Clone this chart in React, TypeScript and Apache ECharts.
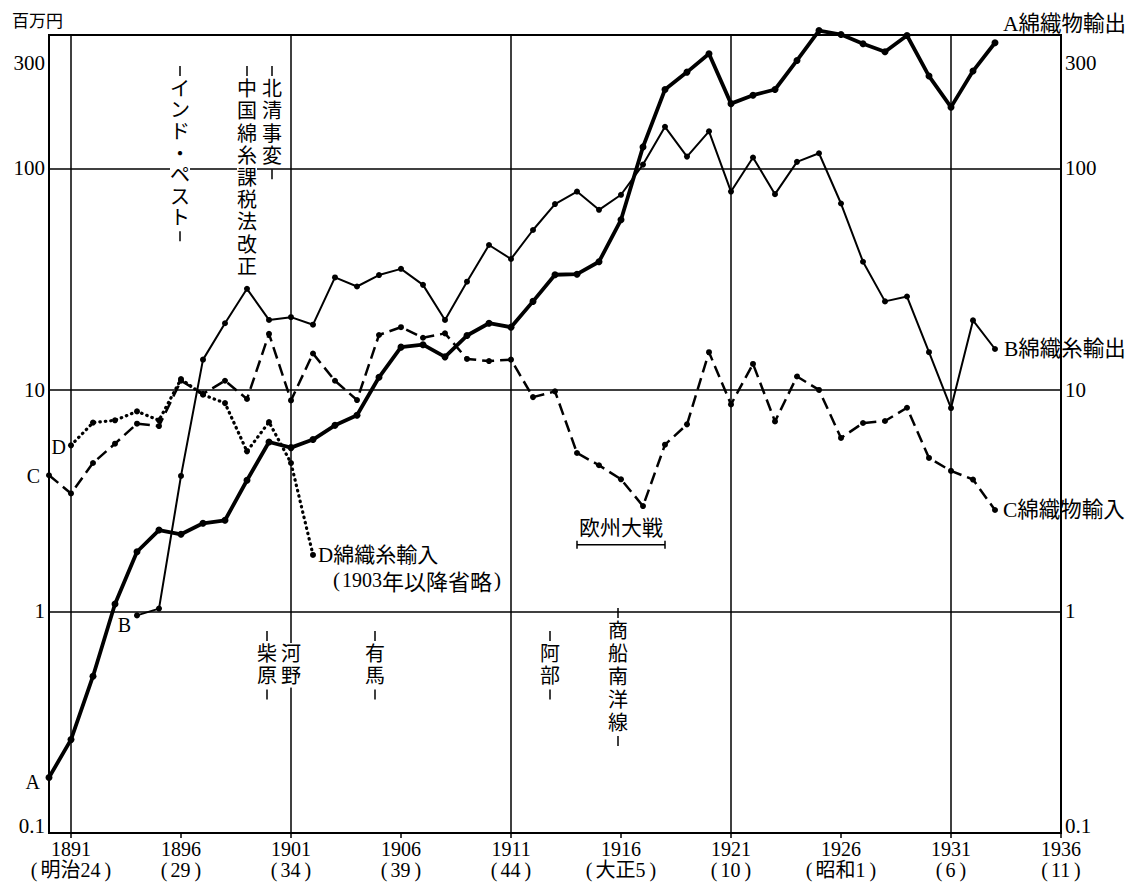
import React, { useEffect, useRef } from "react";
import * as echarts from "echarts";

// ---- data (million yen, log scale) ----
const startYearA = 1890; // A 綿織物輸出
const cottonFabricExport = [
  0.178, 0.264, 0.51, 1.08, 1.86, 2.33, 2.23, 2.5, 2.58, 3.91,
  5.82, 5.49, 5.97, 6.92, 7.68, 11.4, 15.6, 16.0, 14.1, 17.6,
  20.0, 19.2, 25.1, 33.1, 33.3, 37.9, 58.6, 125, 227, 272,
  329, 196, 214, 227, 307, 419, 402, 365, 336, 398,
  261, 189, 275, 369,
];
const startYearB = 1894; // B 綿織糸輸出
const cottonYarnExport = [
  0.96, 1.03, 4.09, 13.7, 20.0, 28.6, 20.7, 21.3, 19.7, 32.2,
  29.3, 33.0, 35.2, 29.8, 20.7, 30.8, 45.1, 39.0, 52.7, 69.0,
  78.6, 65.0, 76.0, 104, 154, 113, 147, 78.6, 112, 76.5,
  107, 117, 69.4, 37.9, 25.1, 26.4, 14.8, 8.28, 20.6, 15.3,
];
const startYearC = 1890; // C 綿織物輸入
const cottonFabricImport = [
  4.12, 3.41, 4.68, 5.72, 7.04, 6.87, 11.0, 9.6, 11.0, 9.1,
  17.9, 8.97, 14.6, 11.0, 9.0, 17.7, 19.2, 17.2, 18.0, 13.8,
  13.5, 13.7, 9.28, 9.85, 5.19, 4.57, 3.95, 2.99, 5.66, 6.99,
  14.8, 8.6, 13.1, 7.21, 11.5, 10.0, 6.07, 7.09, 7.24, 8.31,
  4.93, 4.31, 3.94, 2.87,
];
const startYearD = 1891; // D 綿織糸輸入
const cottonYarnImport = [5.62, 7.12, 7.29, 8.0, 7.29, 11.2, 9.51, 8.72, 5.28, 7.16, 4.68, 1.8];

const tickYears = [1891, 1896, 1901, 1906, 1911, 1916, 1921, 1926, 1931, 1936];
const eraLabels = ["明治24", "29", "34", "39", "44", "大正5", "10", "昭和1", "6", "11"];
const gridYears = [1891, 1901, 1911, 1921, 1931];
const yLabelValues = [0.1, 1, 10, 100, 300];
const yLabelTexts = ["0.1", "1", "10", "100", "300"];
const unitText = "百万円";

const seriesNames = ["A綿織物輸出", "B綿織糸輸出", "C綿織物輸入", "D綿織糸輸入"];
const seriesLetters = ["A", "B", "C", "D"];
const noteDYear = "1903";
const noteDText = "年以降省略";

const eventTexts = ["インド・ペスト", "中国綿糸課税法改正", "北清事変", "柴原", "河野", "有馬", "阿部", "商船南洋線"];
const eventYears = [1896, 1899, 1900, 1900, 1901, 1905, 1913, 1916];
const warText = "欧州大戦";
const warYears = [1914, 1918];

// ---- layout (pixels) ----
const eventLayout = [
  { dx: -1, top: 78, lh: 21.6, above: true, below: true },
  { dx: 0, top: 78, lh: 22.2, above: true, below: false },
  { dx: 3, top: 78, lh: 22.3, above: true, below: true },
  { dx: -2, top: 643, lh: 22.3, above: true, below: true },
  { dx: 0, top: 643, lh: 22.3, above: false, below: false },
  { dx: -4, top: 643, lh: 22.3, above: true, below: true },
  { dx: -5, top: 643, lh: 22.3, above: true, below: true },
  { dx: -3, top: 620, lh: 22.8, above: true, below: true },
];

const SERIF = '"Liberation Serif", "Noto Sans CJK JP", serif';
const CJK = '"Noto Sans CJK JP", "Liberation Serif", sans-serif';

function pairs(start: number, vals: number[]) {
  return vals.map((v, i) => [start + i, v]);
}

export default function App() {
  const ref = useRef<HTMLDivElement>(null);

  useEffect(() => {
    if (!ref.current) return;
    const chart = echarts.init(ref.current, null, { renderer: "svg" });

    const dataA = pairs(startYearA, cottonFabricExport);
    const dataB = pairs(startYearB, cottonYarnExport);
    const dataC = pairs(startYearC, cottonFabricImport);
    const dataD = pairs(startYearD, cottonYarnImport);

    const baseSeries = {
      type: "line",
      symbol: "circle",
      showSymbol: true,
      clip: false,
      silent: true,
      emphasis: { disabled: true },
      itemStyle: { color: "#000" },
      yAxisIndex: 0,
    };

    chart.setOption({
      animation: false,
      backgroundColor: "#fff",
      grid: {
        left: 49,
        right: 71,
        top: 35,
        bottom: 55,
        show: true,
        borderColor: "#000",
        borderWidth: 2,
        backgroundColor: "transparent",
      },
      xAxis: {
        type: "value",
        min: 1890,
        max: 1936,
        axisLine: { show: true, onZero: false, lineStyle: { color: "#000", width: 2 } },
        axisTick: {
          show: true,
          customValues: tickYears,
          length: 5,
          lineStyle: { color: "#000", width: 1.5 },
        },
        axisLabel: {
          customValues: tickYears,
          margin: 5,
          color: "#000",
          formatter: (v: number) => {
            const i = tickYears.indexOf(Math.round(v));
            return `{y|${Math.round(v)}}\n{l|(}{e|${i >= 0 ? eraLabels[i] : ""}}{r|)}`;
          },
          rich: {
            y: { fontFamily: SERIF, fontSize: 20, lineHeight: 21, color: "#000" },
            e: { fontFamily: SERIF, fontSize: 20, lineHeight: 22, color: "#000" },
            l: { fontFamily: SERIF, fontSize: 20, lineHeight: 22, color: "#000", padding: [0, 3, 0, 0] },
            r: { fontFamily: SERIF, fontSize: 20, lineHeight: 22, color: "#000", padding: [0, 0, 0, 4] },
          },
        },
        splitLine: { show: false },
      },
      yAxis: [
        {
          type: "log",
          logBase: 10,
          min: 0.1,
          max: 400,
          axisLine: { show: true, lineStyle: { color: "#000", width: 2 } },
          axisTick: { show: false },
          axisLabel: { show: false },
          splitLine: { show: true, lineStyle: { color: "#000", width: 1.5 } },
        },
        {
          type: "log",
          logBase: 10,
          min: 0.1,
          max: 400,
          position: "right",
          axisLine: { show: true, lineStyle: { color: "#000", width: 2 } },
          axisTick: { show: false },
          axisLabel: { show: false },
          splitLine: { show: false },
        },
      ],
      series: [
        {
          ...baseSeries,
          name: seriesNames[0],
          data: dataA,
          symbolSize: 7,
          lineStyle: { color: "#000", width: 3.8 },
          z: 5,
          markLine: {
            silent: true,
            symbol: "none",
            label: { show: false },
            lineStyle: { color: "#000", width: 1.5, type: "solid" },
            data: gridYears.map((y) => ({ xAxis: y })),
          },
        },
        {
          ...baseSeries,
          name: seriesNames[1],
          data: dataB,
          symbolSize: 6,
          lineStyle: { color: "#000", width: 2 },
          z: 4,
        },
        {
          ...baseSeries,
          name: seriesNames[2],
          data: dataC,
          symbolSize: 6,
          lineStyle: { color: "#000", width: 2.5, type: [12, 6] },
          z: 4,
        },
        {
          ...baseSeries,
          name: seriesNames[3],
          data: dataD,
          symbolSize: 6,
          lineStyle: { color: "#000", width: 3.2, type: [0.5, 5], cap: "round" },
          z: 4,
        },
      ],
    });

    const px = (x: number, y: number) =>
      chart.convertToPixel({ xAxisIndex: 0, yAxisIndex: 0 }, [x, y]) as number[];

    const g: any[] = [];
    const txt = (x: number, y: number, text: string, o: any = {}) => {
      g.push({
        type: "text",
        x,
        y,
        z: 100,
        silent: true,
        style: {
          text,
          fill: "#000",
          fontSize: o.size ?? 20,
          fontFamily: o.family ?? SERIF,
          align: o.align ?? "left",
          verticalAlign: o.va ?? "middle",
          lineHeight: o.lh,
          backgroundColor: o.bg,
          padding: o.pad,
          rich: o.rich,
        },
      });
    };
    const ln = (x1: number, y1: number, x2: number, y2: number, w = 1.5) => {
      g.push({
        type: "line",
        z: 101,
        silent: true,
        shape: { x1, y1, x2, y2 },
        style: { stroke: "#000", lineWidth: w },
      });
    };

    // y labels both sides
    const leftX = px(1890, 1)[0];
    const rightX = px(1936, 1)[0];
    yLabelValues.forEach((v, i) => {
      const y = px(1890, v)[1] + (v === 0.1 ? -7 : 0);
      txt(leftX - 4, y, yLabelTexts[i], { size: 21, align: "right" });
      txt(rightX + 4, y, yLabelTexts[i], { size: 21, align: "left" });
    });
    txt(12, 19, unitText, { size: 17, family: CJK });

    // series start letters
    const a0 = px(startYearA, cottonFabricExport[0]);
    txt(a0[0] - 9, a0[1] + 4, seriesLetters[0], { align: "right" });
    const b0 = px(startYearB, cottonYarnExport[0]);
    txt(b0[0] - 6, b0[1] + 10, seriesLetters[1], { align: "right" });
    const c0 = px(startYearC, cottonFabricImport[0]);
    txt(c0[0] - 9, c0[1] + 1, seriesLetters[2], { align: "right" });
    const d0 = px(startYearD, cottonYarnImport[0]);
    txt(d0[0] - 5, d0[1] + 2, seriesLetters[3], { align: "right" });

    // series end names
    const aN = px(startYearA + cottonFabricExport.length - 1, cottonFabricExport[cottonFabricExport.length - 1]);
    txt(aN[0] + 8, aN[1] - 19, seriesNames[0], { size: 21.5 });
    const bN = px(startYearB + cottonYarnExport.length - 1, cottonYarnExport[cottonYarnExport.length - 1]);
    txt(bN[0] + 9, bN[1], seriesNames[1], { size: 21.5 });
    const cN = px(startYearC + cottonFabricImport.length - 1, cottonFabricImport[cottonFabricImport.length - 1]);
    txt(cN[0] + 8, cN[1], seriesNames[2], { size: 21.5 });
    const dN = px(startYearD + cottonYarnImport.length - 1, cottonYarnImport[cottonYarnImport.length - 1]);
    txt(dN[0] + 5, dN[1], seriesNames[3], { size: 21 });
    txt(dN[0] + 20, dN[1] + 25, `{l|(}{d|${noteDYear}}{k|${noteDText}}{r|)}`, {
      size: 20,
      rich: {
        l: { fontFamily: SERIF, fontSize: 21, padding: [0, 2, 0, 0] },
        d: { fontFamily: SERIF, fontSize: 20 },
        k: { fontFamily: CJK, fontSize: 22 },
        r: { fontFamily: SERIF, fontSize: 21, padding: [0, 0, 0, 2] },
      },
    });

    // European war bracket
    const w0 = px(warYears[0], 2);
    const w1 = px(warYears[1], 2);
    ln(w0[0], w0[1], w1[0], w1[1], 1.5);
    ln(w0[0], w0[1] - 4, w0[0], w0[1] + 4, 1.5);
    ln(w1[0], w1[1] - 4, w1[0], w1[1] + 4, 1.5);
    txt((w0[0] + w1[0]) / 2, w0[1] - 19, warText, { size: 21, family: CJK, align: "center" });

    // vertical event annotations (one character per line)
    eventTexts.forEach((t, i) => {
      const L = eventLayout[i];
      const cx = px(eventYears[i], 1)[0] + L.dx;
      const chars = Array.from(t);
      txt(cx, L.top, chars.join("\n"), {
        size: 20,
        family: SERIF,
        align: "center",
        va: "top",
        lh: L.lh,
        bg: "#fff",
        pad: [0, 0],
      });
      const bottom = L.top + chars.length * L.lh;
      if (L.above) ln(cx, L.top - 12, cx, L.top - 2, 1.5);
      if (L.below) ln(cx, bottom + 2, cx, bottom + 12, 1.5);
    });

    chart.setOption({ graphic: { elements: g } });

    return () => chart.dispose();
  }, []);

  return (
    <div
      ref={ref}
      style={{ position: "absolute", left: 0, top: 0, width: 1132, height: 888, background: "#fff" }}
    />
  );
}
